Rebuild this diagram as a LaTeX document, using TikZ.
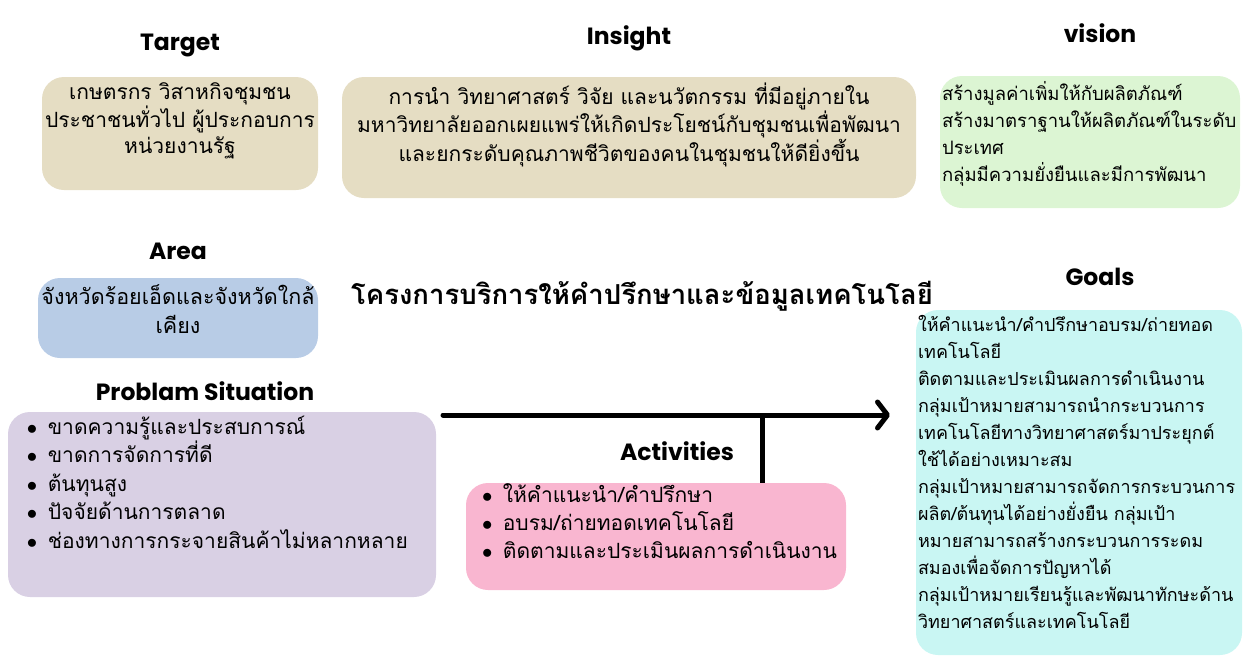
\documentclass[tikz,border=0pt]{standalone}
\usepackage{fontspec}
\setmainfont{Poppins}
\newfontfamily\thai[Script=Thai]{Loma}
\usetikzlibrary{positioning,arrows.meta}

\definecolor{sand}{HTML}{E5DDC3}
\definecolor{mint}{HTML}{DCF5D3}
\definecolor{sky}{HTML}{B8CCE6}
\definecolor{aqua}{HTML}{C9F6F3}
\definecolor{lilac}{HTML}{D9D0E4}
\definecolor{rose}{HTML}{F9B6D0}

\newcommand{\itm}{$\bullet$\enspace}

\tikzset{
    card/.style={rounded corners=22pt, inner sep=0pt},
    head/.style={font=\fontsize{23.5}{27}\selectfont\bfseries, inner sep=0pt,
        text height=17pt, text depth=5pt},
    body/.style 2 args={font=\thai\fontsize{#1}{#2}\selectfont, inner sep=0pt},
    flow/.style={line width=5pt, line cap=round,
        -{Straight Barb[round, length=10pt, width=26pt]}},
    stem/.style={line width=5pt},
}

\begin{document}
\begin{tikzpicture}[x=1pt, y=-1pt]
    \useasboundingbox (0,0) rectangle (1248,664);
    % boxes
    \node [card, fill=sand, minimum width=276pt, minimum height=113pt] (tgt) at (180,133.5) {};
    \node [card, fill=sand, minimum width=574pt, minimum height=121pt] (ins) at (629,137.5) {};
    \node [card, fill=mint, minimum width=300pt, minimum height=132pt] (vis) at (1090,142) {};
    \node [card, fill=sky, minimum width=280pt, minimum height=80pt] (area) at (178,318) {};
    \node [card, fill=aqua, minimum width=326pt, minimum height=345pt] (goal) at (1079,482.5) {};
    \node [card, fill=lilac, minimum width=428pt, minimum height=185pt] (prob) at (222,504.5) {};
    \node [card, fill=rose, minimum width=380pt, minimum height=107pt] (act) at (656,536.5) {};
    % headings
    \node [head, above=21pt of tgt] (tgtH) {Target};
    \node [head, above=27pt of ins] (insH) {Insight};
    \node [head, above=28pt of vis, xshift=10pt] (visH) {vision};
    \node [head, above=13pt of area] (areaH) {Area};
    \node [head, above=19pt of goal, xshift=21pt] (goalH) {Goals};
    \node [head, above=6pt of prob, xshift=-17pt] (probH) {Problam Situation};
    \node [head, above=17pt of act, xshift=21pt] (actH) {Activities};
    % texts
    \node [body={21}{26}, align=center, below=6pt of tgt.north] (tgtT)
        {เกษตรกร วิสาหกิจชุมชน\\ประชาชนทั่วไป ผู้ประกอบการ\\หน่วยงานรัฐ};
    \node [body={21}{25}, align=center, below=6pt of ins.north] (insT)
        {การนำ วิทยาศาสตร์ วิจัย และนวัตกรรม ที่มีอยู่ภายใน\\
         มหาวิทยาลัยออกเผยแพร่ให้เกิดประโยชน์กับชุมชนเพื่อพัฒนา\\
         และยกระดับคุณภาพชีวิตของคนในชุมชนให้ดียิ่งขึ้น};
    \node [body={18.5}{27}, align=left, below right=5pt and 2pt of vis.north west] (visT)
        {สร้างมูลค่าเพิ่มให้กับผลิตภัณฑ์\\สร้างมาตราฐานให้ผลิตภัณฑ์ในระดับ\\ประเทศ\\กลุ่มมีความยั่งยืนและมีการพัฒนา};
    \node [body={21.5}{29}, align=center, below=7pt of area.north] (areaT)
        {จังหวัดร้อยเอ็ดและจังหวัดใกล้\\เคียง};
    \node [body={18}{27}, align=left, below right=5pt and 2pt of goal.north west] (goalT)
        {ให้คำแนะนำ/คำปรึกษาอบรม/ถ่ายทอด\\
         เทคโนโลยี\\
         ติดตามและประเมินผลการดำเนินงาน\\
         กลุ่มเป้าหมายสามารถนำกระบวนการ\\
         เทคโนโลยีทางวิทยาศาสตร์มาประยุกต์\\
         ใช้ได้อย่างเหมาะสม\\
         กลุ่มเป้าหมายสามารถจัดการกระบวนการ\\
         ผลิต/ต้นทุนได้อย่างยั่งยืน กลุ่มเป้า\\
         หมายสามารถสร้างกระบวนการระดม\\
         สมองเพื่อจัดการปัญหาได้\\
         กลุ่มเป้าหมายเรียนรู้และพัฒนาทักษะด้าน\\
         วิทยาศาสตร์และเทคโนโลยี};
    \node [body={21}{28.5}, align=left, below right=4pt and 19pt of prob.north west] (probT)
        {\itm ขาดความรู้และประสบการณ์\\
         \itm ขาดการจัดการที่ดี\\
         \itm ต้นทุนสูง\\
         \itm ปัจจัยด้านการตลาด\\
         \itm ช่องทางการกระจายสินค้าไม่หลากหลาย};
    \node [body={21}{28}, align=left, below right=1pt and 16pt of act.north west] (actT)
        {\itm ให้คำแนะนำ/คำปรึกษา\\
         \itm อบรม/ถ่ายทอดเทคโนโลยี\\
         \itm ติดตามและประเมินผลการดำเนินงาน};
    % title
    \node [font=\thai\bfseries\fontsize{27.5}{33}\selectfont, inner sep=0pt] (title) at (642,296)
        {โครงการบริการให้คำปรึกษาและข้อมูลเทคโนโลยี};
    % arrow
    \coordinate (arrS) at (443,415);
    \coordinate (arrE) at (890,415);
    \coordinate (jn) at (762,415);
    \draw [flow] (arrS) -- (arrE);
    \draw [stem] (act.north -| jn) -- (jn);
\end{tikzpicture}
\end{document}
